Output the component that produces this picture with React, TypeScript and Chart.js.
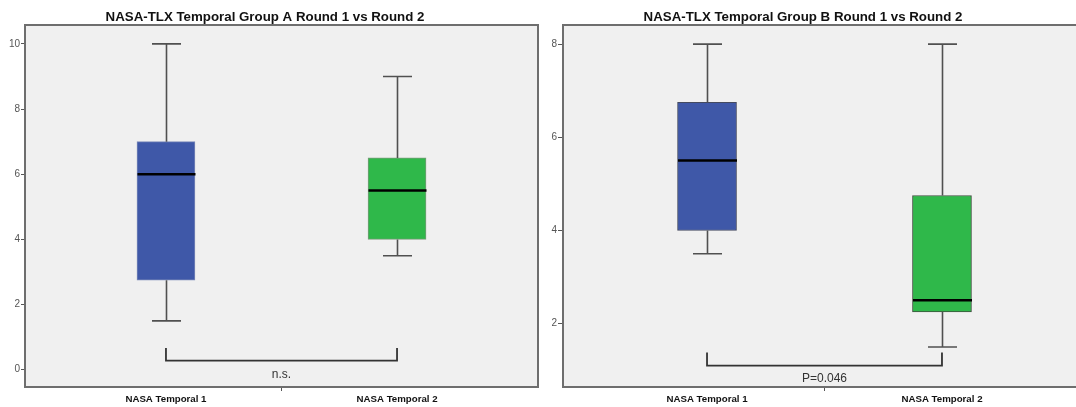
import React, { useEffect, useRef } from "react";
import { Chart, registerables } from "chart.js";

Chart.register(...registerables);

// ---------- DATA ----------
const categories = ["NASA Temporal 1", "NASA Temporal 2"];
const boxColors = ["#3f58a8", "#2fb84a"];

// Group A
const titleA = "NASA-TLX Temporal Group A Round 1 vs Round 2";
const minA = [1.5, 3.5];
const q1A = [2.75, 4.0];
const medA = [6.0, 5.5];
const q3A = [7.0, 6.5];
const maxA = [10.0, 9.0];
const yTicksA = [0, 2, 4, 6, 8, 10];
const bracketA = { from: 1, to: 2, bottom: 0.28, tip: 0.67, label: "n.s.", labelY: -0.15 };

// Group B
const titleB = "NASA-TLX Temporal Group B Round 1 vs Round 2";
const minB = [3.5, 1.5];
const q1B = [4.0, 2.25];
const medB = [5.5, 2.5];
const q3B = [6.75, 4.75];
const maxB = [8.0, 8.0];
const yTicksB = [2, 4, 6, 8];
const bracketB = { from: 1, to: 2, bottom: 1.1, tip: 1.38, label: "P=0.046", labelY: 0.82 };

type Spec = {
  title: string;
  min: number[];
  q1: number[];
  med: number[];
  q3: number[];
  max: number[];
  yTicks: number[];
  yMin: number;
  yMax: number;
  xMin: number;
  xMax: number;
  bracket: typeof bracketA;
  barThickness: number;
  yAxisWidth: number;
  padRight: number;
  tickLen: number;
  boxBorders: string[];
};

const specA: Spec = {
  title: titleA, min: minA, q1: q1A, med: medA, q3: q3A, max: maxA,
  yTicks: yTicksA, yMin: -0.53, yMax: 10.58, xMin: 0.39, xMax: 2.61,
  bracket: bracketA, barThickness: 58, yAxisWidth: 25, padRight: 2, tickLen: 4,
  boxBorders: ["#7a88b8", "#7a9a7a"],
};
const specB: Spec = {
  title: titleB, min: minB, q1: q1B, med: medB, q3: q3B, max: maxB,
  yTicks: yTicksB, yMin: 0.64, yMax: 8.41, xMin: 0.387, xMax: 2.613,
  bracket: bracketB, barThickness: 59, yAxisWidth: 23, padRight: 14, tickLen: 5,
  boxBorders: ["#444a60", "#3f4f3f"],
};

const FONT = '"Liberation Sans", Arial, sans-serif';

function makeConfig(spec: Spec): any {
  const boxPlugin = {
    id: "boxExtras",
    beforeDraw(chart: any) {
      const { ctx, chartArea: a } = chart;
      ctx.save();
      ctx.fillStyle = "#ffffff";
      ctx.fillRect(0, 0, chart.width, chart.height);
      ctx.fillStyle = "#f0f0f0";
      ctx.fillRect(a.left, a.top, a.right - a.left, a.bottom - a.top);
      ctx.restore();
    },
    afterDatasetsDraw(chart: any) {
      const { ctx } = chart;
      const xs = chart.scales.x;
      const ys = chart.scales.y;
      ctx.save();
      spec.min.forEach((_, i) => {
        const cx = Math.round(xs.getPixelForValue(i + 1)) + 0.5;
        const capHalf = 14.5;
        const boxHalf = spec.barThickness / 2;
        ctx.strokeStyle = "#505050";
        ctx.lineWidth = 1.6;
        ctx.beginPath();
        ctx.moveTo(cx, ys.getPixelForValue(spec.q3[i]));
        ctx.lineTo(cx, ys.getPixelForValue(spec.max[i]));
        ctx.moveTo(cx, ys.getPixelForValue(spec.q1[i]));
        ctx.lineTo(cx, ys.getPixelForValue(spec.min[i]));
        const yMaxP = ys.getPixelForValue(spec.max[i]);
        const yMinP = ys.getPixelForValue(spec.min[i]);
        ctx.moveTo(cx - capHalf, yMaxP);
        ctx.lineTo(cx + capHalf, yMaxP);
        ctx.moveTo(cx - capHalf, yMinP);
        ctx.lineTo(cx + capHalf, yMinP);
        ctx.stroke();
        ctx.strokeStyle = "#000000";
        ctx.lineWidth = 2.5;
        const ym = ys.getPixelForValue(spec.med[i]);
        ctx.beginPath();
        ctx.moveTo(cx - boxHalf, ym);
        ctx.lineTo(cx + boxHalf, ym);
        ctx.stroke();
      });
      // significance bracket
      const b = spec.bracket;
      const x1 = xs.getPixelForValue(b.from);
      const x2 = xs.getPixelForValue(b.to);
      const yb = ys.getPixelForValue(b.bottom);
      const yt = ys.getPixelForValue(b.tip);
      ctx.strokeStyle = "#333333";
      ctx.lineWidth = 1.8;
      ctx.beginPath();
      ctx.moveTo(x1, yt);
      ctx.lineTo(x1, yb);
      ctx.lineTo(x2, yb);
      ctx.lineTo(x2, yt);
      ctx.stroke();
      ctx.fillStyle = "#333333";
      ctx.font = `12px ${FONT}`;
      ctx.textAlign = "center";
      ctx.textBaseline = "middle";
      ctx.fillText(b.label, xs.getPixelForValue((b.from + b.to) / 2), ys.getPixelForValue(b.labelY));
      ctx.restore();
    },
    afterDraw(chart: any) {
      const { ctx, chartArea: a } = chart;
      ctx.save();
      ctx.strokeStyle = "#6e6e6e";
      ctx.lineWidth = 2;
      ctx.strokeRect(a.left, a.top, a.right - a.left, a.bottom - a.top);
      ctx.fillStyle = "#111111";
      ctx.font = `bold 13.3px ${FONT}`;
      ctx.textAlign = "center";
      ctx.textBaseline = "middle";
      ctx.fillText(spec.title, a.left + 240, 17);
      ctx.restore();
    },
  };

  return {
    type: "bar",
    data: {
      datasets: [
        {
          data: spec.q1.map((q, i) => ({ x: i + 1, y: [q, spec.q3[i]] })),
          backgroundColor: boxColors,
          borderColor: spec.boxBorders,
          borderWidth: 1,
          borderSkipped: false,
          barThickness: spec.barThickness,
        },
      ],
    },
    options: {
      responsive: false,
      animation: false,
      layout: { padding: { top: 25, right: spec.padRight, left: 0, bottom: 0 } },
      plugins: {
        legend: { display: false },
        tooltip: { enabled: false },
        title: { display: false },
      },
      scales: {
        x: {
          type: "linear",
          offset: false,
          min: spec.xMin,
          max: spec.xMax,
          border: { display: false },
          grid: {
            offset: false,
            drawOnChartArea: false,
            drawTicks: true,
            tickLength: 4,
            color: (ctx: any) => (ctx.tick && ctx.tick.value === 1.5 ? "#555555" : "rgba(0,0,0,0)"),
          },
          afterBuildTicks: (axis: any) => {
            axis.ticks = [{ value: 1 }, { value: 1.5 }, { value: 2 }];
          },
          ticks: {
            autoSkip: false,
            maxRotation: 0,
            padding: 3,
            color: "#111111",
            font: { family: FONT, size: 9.7, weight: "bold" },
            callback: (v: number) => (v === 1 ? categories[0] : v === 2 ? categories[1] : ""),
          },
          afterFit: (axis: any) => {
            axis.height = 20;
          },
        },
        y: {
          min: spec.yMin,
          max: spec.yMax,
          border: { display: false },
          grid: { drawOnChartArea: false, drawTicks: true, tickLength: spec.tickLen, color: "#555555" },
          afterBuildTicks: (axis: any) => {
            axis.ticks = spec.yTicks.map((v) => ({ value: v }));
          },
          ticks: {
            padding: 1,
            color: "#555555",
            font: { family: FONT, size: 10 },
          },
          afterFit: (axis: any) => {
            axis.width = spec.yAxisWidth;
          },
        },
      },
    },
    plugins: [boxPlugin],
  };
}

function BoxChart({ spec, left, width }: { spec: Spec; left: number; width: number }) {
  const ref = useRef<HTMLCanvasElement>(null);
  useEffect(() => {
    if (!ref.current) return;
    const chart = new Chart(ref.current, makeConfig(spec));
    return () => chart.destroy();
  }, [spec]);
  return (
    <canvas
      ref={ref}
      width={width}
      height={407}
      style={{ position: "absolute", left, top: 0, width, height: 407 }}
    />
  );
}

export default function App() {
  return (
    <div
      style={{
        position: "fixed",
        left: 0,
        top: 0,
        width: 1076,
        height: 407,
        overflow: "hidden",
        background: "#ffffff",
      }}
    >
      <BoxChart spec={specA} left={0} width={540} />
      <BoxChart spec={specB} left={540} width={560} />
    </div>
  );
}
